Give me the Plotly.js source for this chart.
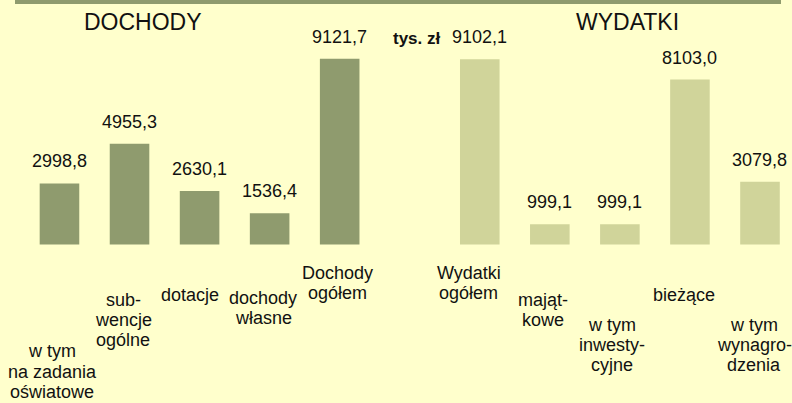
<!DOCTYPE html>
<html>
<head>
<meta charset="utf-8">
<script src="https://cdn.plot.ly/plotly-3.0.1.min.js"></script>
<style>
  html, body { margin: 0; padding: 0; background: #FFFFCC; }
  #chart { width: 792px; height: 403px; }
</style>
</head>
<body>
<div id="chart"></div>
<script>
// ---- data ----
const dochodyCats = ['w tym<br>na zadania<br>oświatowe', 'sub-<br>wencje<br>ogólne', 'dotacje', 'dochody<br>własne', 'Dochody<br>ogółem'];
const dochodyVals = [2998.8, 4955.3, 2630.1, 1536.4, 9121.7];
const wydatkiCats = ['Wydatki<br>ogółem', 'mająt-<br>kowe', 'w tym<br>inwesty-<br>cyjne', 'bieżące', 'w tym<br>wynagro-<br>dzenia'];
const wydatkiVals = [9102.1, 999.1, 999.1, 8103.0, 3079.8];
const groupTitles = ['DOCHODY', 'WYDATKI'];
const unitLabel = 'tys. zł';

// ---- layout / style config ----
const W = 792, H = 403;
const FONT = "'Liberation Sans', Arial, sans-serif";
const BG = '#FFFFCC';
const COL_D = '#8F9B6E';
const COL_W = '#D0D49A';
const TXT = '#111111';
const zeroPx = 244.5;          // pixel row of value 0
const pxPerUnit = 0.02035;     // vertical scale
const yMax = zeroPx / pxPerUnit;
const yMin = -(H - zeroPx) / pxPerUnit;
const spacer = ' ';
const catOrder = dochodyCats.concat([spacer], wydatkiCats);
const xRange = [-0.849, 10.457];
// first-line baselines (px) and horizontal shifts of category labels
const labelBaselinePx = [356.7, 305, 300, 303, 278, 278.3, 305, 330, 300, 330];
const labelShiftPx = [-7, -6.5, -10, -6.5, -2, -11, -7, -8.3, -6, -5.5];
const lineStep = 20.3;
const fs = 18;
const topOffset = 1 + 0.905 * fs; // top of annotation box to baseline

function fmt(v) { return v.toFixed(1).replace('.', ','); }
function paperY(px) { return 1 - px / H; }

const traces = [
  { type: 'bar', x: dochodyCats, y: dochodyVals, width: 0.565,
    marker: { color: COL_D, line: { width: 0 } }, hoverinfo: 'none' },
  { type: 'bar', x: wydatkiCats, y: wydatkiVals, width: 0.565,
    marker: { color: COL_W, line: { width: 0 } }, hoverinfo: 'none' }
];

const annotations = [];
const allCats = dochodyCats.concat(wydatkiCats);
const allVals = dochodyVals.concat(wydatkiVals);
allCats.forEach((c, i) => {
  // value label
  annotations.push({ x: c, y: allVals[i], xref: 'x', yref: 'y', text: fmt(allVals[i]),
    showarrow: false, yanchor: 'bottom', xanchor: 'center', yshift: 10,
    font: { family: FONT, size: fs, color: TXT } });
  // category label, line by line
  c.split('<br>').forEach((line, k) => {
    annotations.push({ x: c, xref: 'x', yref: 'paper',
      y: paperY(labelBaselinePx[i] + k * lineStep - topOffset),
      text: line, showarrow: false, yanchor: 'top', xanchor: 'center',
      xshift: labelShiftPx[i],
      font: { family: FONT, size: fs, color: TXT } });
  });
});
// group titles
const titleX = [143 / W, 627.5 / W];
const titleBase = [29.3, 28.5];
groupTitles.forEach((t, i) => {
  annotations.push({ x: titleX[i], xref: 'paper', yref: 'paper',
    y: paperY(titleBase[i] - 1 - 0.905 * 23), text: t, showarrow: false,
    xanchor: 'center', yanchor: 'top', font: { family: FONT, size: 23, color: TXT } });
});
annotations.push({ x: 416.7 / W, xref: 'paper', yref: 'paper',
  y: paperY(44 - topOffset), text: '<b>' + unitLabel + '</b>', showarrow: false,
  xanchor: 'center', yanchor: 'top', font: { family: FONT, size: 17, color: TXT } });

const layout = {
  width: W, height: H,
  margin: { l: 0, r: 0, t: 0, b: 0, pad: 0 },
  paper_bgcolor: BG, plot_bgcolor: BG,
  showlegend: false, barmode: 'overlay',
  xaxis: { type: 'category', categoryorder: 'array', categoryarray: catOrder,
    range: xRange, visible: false, fixedrange: true },
  yaxis: { range: [yMin, yMax], visible: false, fixedrange: true },
  annotations: annotations,
  shapes: [{ type: 'rect', xref: 'paper', yref: 'paper',
    x0: 15 / W, x1: 781 / W, y0: 1 - 4 / H, y1: 1,
    fillcolor: COL_D, line: { width: 0 } }]
};

Plotly.newPlot('chart', traces, layout, { staticPlot: true, displayModeBar: false });
</script>
</body>
</html>
